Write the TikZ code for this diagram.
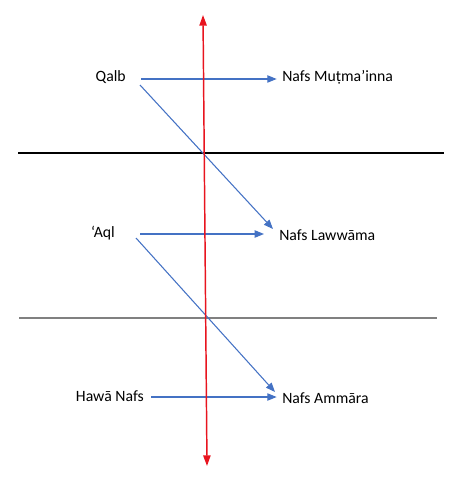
\documentclass[tikz,border=0pt]{standalone}
\usepackage{fontspec}
\setmainfont{Carlito}
\usetikzlibrary{arrows.meta}
\definecolor{officeblue}{HTML}{4472C4}
\definecolor{axisred}{HTML}{E8141E}
\begin{document}
\begin{tikzpicture}[x=0.75pt,y=-0.75pt,
  lbl/.style={inner sep=0pt,font=\fontsize{11.8}{14}\selectfont},
  bluearrow/.style={draw=officeblue,line width=0.8pt,-{Triangle[length=7pt,width=5.5pt]}},
  redaxis/.style={draw=axisred,line width=1.1pt,{Triangle[length=8pt,width=5.5pt]}-{Triangle[length=8pt,width=5.5pt]}}]
\useasboundingbox (0,0) rectangle (464,477);
% horizontal dividers
\coordinate (h1l) at (18,153); \coordinate (h1r) at (444,153);
\coordinate (h2l) at (19,318); \coordinate (h2r) at (437,318);
\draw[black,line width=0.8pt] (h1l) -- (h1r);
\draw[gray,line width=1.1pt] (h2l) -- (h2r);
% text nodes
\node[lbl,anchor=east] (qalb) at (126,77) {Qalb};
\node[lbl,anchor=east] (aql) at (115,233) {‘Aql};
\node[lbl,anchor=east] (hawa) at (144,396) {Hawā Nafs};
\node[lbl,anchor=west] (mut) at (282,77) {Nafs Muṭma’inna};
\node[lbl,anchor=west] (law) at (279,235) {Nafs Lawwāma};
\node[lbl,anchor=west] (amm) at (282,398) {Nafs Ammāra};
% horizontal arrows (arrow rows)
\coordinate (r1) at (0,79); \coordinate (r2) at (0,234); \coordinate (r3) at (0,397);
\draw[bluearrow] ([xshift=11.25pt]qalb.east |- r1) -- ([xshift=-4pt]mut.west |- r1);
\draw[bluearrow] ([xshift=18.75pt]aql.east |- r2) -- ([xshift=-11.25pt]law.west |- r2);
\draw[bluearrow] ([xshift=5.25pt]hawa.east |- r3) -- ([xshift=-4pt]amm.west |- r3);
% diagonal arrows
\coordinate (d1s) at (140,85); \coordinate (d1e) at (273,229);
\coordinate (d2s) at (136,238); \coordinate (d2e) at (275,392);
\draw[bluearrow] (d1s) -- (d1e);
\draw[bluearrow] (d2s) -- (d2e);
% red vertical axis
\coordinate (rtop) at (203,15); \coordinate (rbot) at (207,466);
\draw[redaxis] (rbot) -- (rtop);
\end{tikzpicture}
\end{document}
